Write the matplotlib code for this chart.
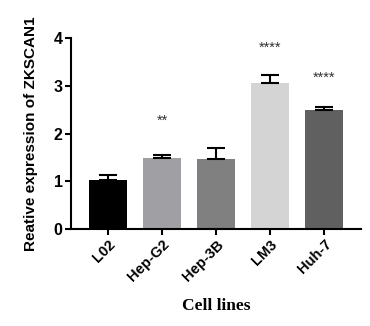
import matplotlib
matplotlib.use("Agg")
import matplotlib.pyplot as plt
import numpy as np

# data
cell_lines = ["L02", "Hep-G2", "Hep-3B", "LM3", "Huh-7"]
expression = [1.02, 1.49, 1.46, 3.07, 2.49]
sem = [0.11, 0.07, 0.24, 0.15, 0.06]
bar_colors = ["#000000", "#a0a0a4", "#808080", "#d4d4d4", "#606060"]
stars = ["", "**", "", "****", "****"]
star_heights = [0, 2.27, 0, 3.80, 3.16]

plt.rcParams['font.family'] = ['Liberation Sans', 'DejaVu Sans']

fig = plt.figure(figsize=(3.7, 3.26), dpi=100)
ax = fig.add_axes([0.192, 0.2975, 0.784, 0.5855])

x = np.arange(len(cell_lines))
ax.bar(x, expression, width=0.7, color=bar_colors, edgecolor="none", zorder=2)
ax.errorbar(x, expression, yerr=[np.zeros(len(sem)), sem], fmt="none",
            ecolor="black", elinewidth=1.5, capsize=6.5, capthick=1.5, zorder=3)

for xi, s, h in zip(x, stars, star_heights):
    if s:
        ax.text(xi, h, s, ha="center", va="center", fontsize=10.5, color="#333333")

ax.set_xlim(-0.685, 4.685)
ax.set_ylim(0, 4)
ax.set_yticks([0, 1, 2, 3, 4])
ax.set_xticks(x)
ax.set_xticklabels(cell_lines, rotation=45, ha="right", rotation_mode="anchor",
                   fontsize=10.5, fontweight="bold")
for lbl in ax.get_yticklabels():
    lbl.set_fontsize(11.5)
    lbl.set_fontweight("bold")

for side in ["top", "right"]:
    ax.spines[side].set_visible(False)
for side in ["left", "bottom"]:
    ax.spines[side].set_linewidth(1.5)
ax.tick_params(axis="both", width=1.5, length=4, pad=2)

ax.set_ylabel("Reative expression of ZKSCAN1", fontsize=11, fontweight="bold",
              labelpad=11)
ax.set_xlabel("Cell lines", fontsize=12.5, fontweight="bold",
              family=["Liberation Serif", "DejaVu Serif"], labelpad=10)

fig.savefig("out.png", dpi=100)
